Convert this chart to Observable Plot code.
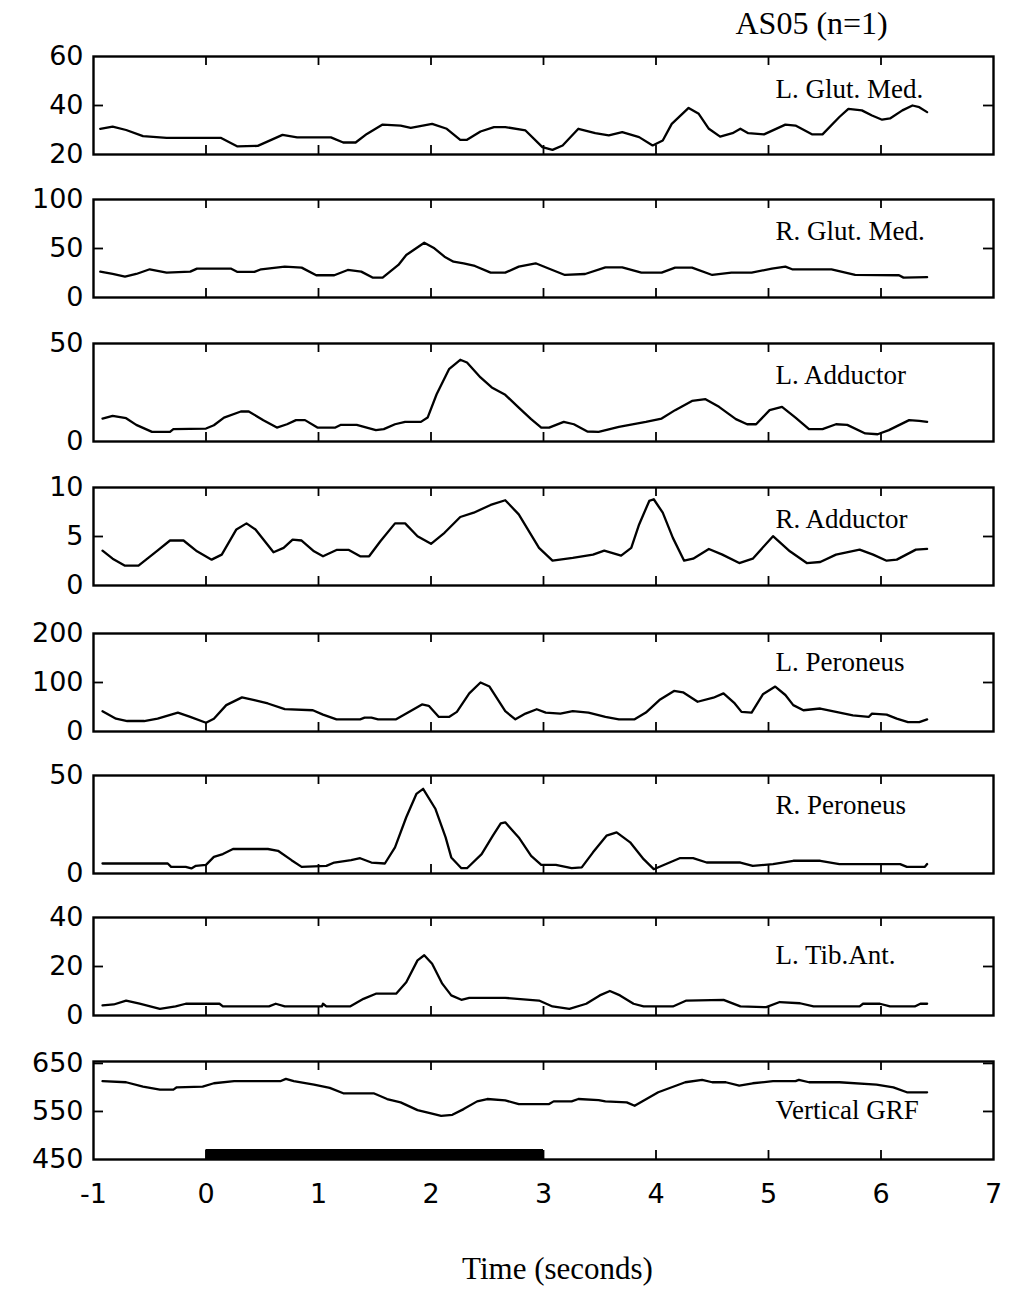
<!DOCTYPE html>
<html><head><meta charset="utf-8">
<script src="https://cdn.jsdelivr.net/npm/d3@7"></script>
<script src="https://cdn.jsdelivr.net/npm/@observablehq/plot@0.6"></script>
<style>
body{margin:0;background:#fff;}
#chart{position:relative;width:1011px;height:1293px;background:#fff;}
#chart svg{position:absolute;left:0;}
</style></head><body><div id="chart"></div>
<script>
// ---- data ----
const title = "AS05 (n=1)";
const xLabel = "Time (seconds)";
const xTicks = [-1, 0, 1, 2, 3, 4, 5, 6, 7];
const muscleNames = ["L. Glut. Med.", "R. Glut. Med.", "L. Adductor", "R. Adductor", "L. Peroneus", "R. Peroneus", "L. Tib.Ant.", "Vertical GRF"];
const yDomains = [[20, 60], [0, 100], [0, 50], [0, 10], [0, 200], [0, 50], [0, 40], [450, 654]];
const yTicks = [[20, 40, 60], [0, 50, 100], [0, 50], [0, 5, 10], [0, 100, 200], [0, 50], [0, 20, 40], [450, 550, 650]];
const stimulusBar = [[0, 3]];

const lGlutMed = [[-0.94,30.5],[-0.83,31.4],[-0.71,30],[-0.56,27.5],[-0.35,26.8],[0.13,26.8],[0.28,23.3],[0.46,23.5],[0.68,28],[0.81,27],[1.11,27],[1.22,24.9],[1.33,24.9],[1.43,28.4],[1.57,32.2],[1.73,31.8],[1.82,30.9],[2.01,32.5],[2.14,30.5],[2.26,26],[2.32,26],[2.44,29.4],[2.56,31.2],[2.66,31.2],[2.84,29.8],[2.99,23],[3.08,21.9],[3.17,23.7],[3.31,30.5],[3.46,28.7],[3.58,27.8],[3.70,29.1],[3.85,27.1],[3.97,23.7],[4.06,25.7],[4.14,32.5],[4.29,39],[4.38,36.6],[4.47,30.5],[4.57,27.3],[4.68,28.7],[4.75,30.5],[4.82,28.7],[4.96,28.2],[5.15,32.2],[5.24,31.8],[5.39,28.2],[5.48,28.2],[5.63,35.3],[5.71,38.6],[5.83,38],[5.92,35.9],[6.01,34.2],[6.08,34.7],[6.19,38],[6.28,40],[6.34,39.3],[6.41,37.3]];
const rGlutMed = [[-0.94,26.4],[-0.83,24],[-0.72,21.4],[-0.62,24],[-0.50,28.8],[-0.35,25.4],[-0.14,26.4],[-0.08,29.5],[0.22,29.5],[0.28,26.1],[0.43,26.1],[0.49,28.8],[0.70,31.5],[0.85,30.5],[0.98,22.7],[1.14,22.7],[1.26,28.1],[1.38,26.4],[1.48,20.3],[1.57,20.3],[1.71,33.2],[1.78,43.4],[1.94,55.9],[2.03,50.2],[2.12,41.7],[2.20,36.6],[2.29,34.9],[2.39,32.2],[2.53,25.4],[2.66,25.4],[2.78,31.5],[2.93,34.9],[3.04,29.8],[3.19,23],[3.37,24],[3.55,30.8],[3.70,30.8],[3.87,25.4],[4.05,25.4],[4.17,30.5],[4.32,30.5],[4.50,23],[4.67,25.4],[4.85,25.4],[5.03,29.5],[5.15,31.5],[5.21,28.8],[5.56,28.8],[5.77,23],[6.16,22.7],[6.20,20.3],[6.41,20.7]];
const lAdductor = [[-0.92,11.7],[-0.83,13.1],[-0.71,11.9],[-0.62,8.5],[-0.48,4.9],[-0.32,4.9],[-0.29,6.3],[0.00,6.6],[0.07,8.3],[0.16,12.2],[0.31,15.3],[0.38,15.3],[0.51,10.9],[0.63,7.1],[0.72,8.8],[0.80,10.9],[0.88,10.9],[0.99,7.1],[1.15,7.1],[1.20,8.5],[1.34,8.5],[1.51,5.8],[1.58,6.3],[1.68,8.8],[1.77,10],[1.91,10],[1.97,12.2],[2.05,24.1],[2.16,36.9],[2.26,41.7],[2.32,40.3],[2.44,32.7],[2.54,27.6],[2.66,23.8],[2.78,17.3],[2.89,11.4],[2.98,7.1],[3.05,7.1],[3.18,10],[3.27,8.8],[3.39,5.1],[3.49,4.9],[3.67,7.5],[3.91,10],[4.05,11.7],[4.17,16],[4.32,20.7],[4.44,21.6],[4.56,17.7],[4.71,11.4],[4.81,8.8],[4.89,8.8],[5.01,16],[5.12,17.7],[5.24,12.2],[5.36,6.3],[5.48,6.3],[5.60,8.8],[5.70,8.5],[5.86,4.1],[5.97,3.7],[6.07,5.8],[6.25,10.9],[6.34,10.5],[6.41,10]];
const rAdductor = [[-0.92,3.56],[-0.83,2.74],[-0.72,2.02],[-0.60,2.02],[-0.44,3.49],[-0.32,4.59],[-0.20,4.59],[-0.08,3.49],[0.05,2.64],[0.14,3.15],[0.27,5.72],[0.36,6.34],[0.44,5.72],[0.60,3.39],[0.69,3.84],[0.77,4.69],[0.85,4.59],[0.96,3.49],[1.04,2.98],[1.16,3.63],[1.27,3.63],[1.37,2.98],[1.45,2.98],[1.55,4.52],[1.68,6.34],[1.77,6.34],[1.88,5.03],[2.00,4.25],[2.12,5.38],[2.26,6.99],[2.38,7.43],[2.53,8.22],[2.66,8.7],[2.78,7.26],[2.87,5.55],[2.96,3.84],[3.08,2.53],[3.26,2.81],[3.44,3.15],[3.54,3.56],[3.69,3.05],[3.78,3.84],[3.85,6.23],[3.94,8.63],[3.98,8.8],[4.06,7.43],[4.15,4.86],[4.25,2.53],[4.33,2.74],[4.47,3.73],[4.59,3.15],[4.74,2.29],[4.86,2.74],[5.04,5.03],[5.19,3.49],[5.34,2.29],[5.46,2.4],[5.60,3.15],[5.81,3.66],[5.93,3.15],[6.05,2.53],[6.14,2.64],[6.31,3.66],[6.41,3.73]];
const lPeroneus = [[-0.92,41.4],[-0.80,26.2],[-0.70,21.4],[-0.55,21.4],[-0.43,26.2],[-0.25,38.6],[-0.14,29.7],[0.00,17.9],[0.07,26.2],[0.18,53.8],[0.32,69.7],[0.43,64.1],[0.55,57.2],[0.70,45.5],[0.95,43.4],[1.04,34.5],[1.16,24.8],[1.37,24.8],[1.41,28.3],[1.47,28.3],[1.53,24.8],[1.69,24.8],[1.78,36.6],[1.92,55.2],[1.98,52.4],[2.07,29.7],[2.16,29.7],[2.23,40],[2.34,77.9],[2.44,100],[2.52,91.7],[2.66,41.4],[2.75,24.8],[2.84,36.6],[2.94,45.5],[3.02,38.6],[3.15,36.6],[3.26,41.4],[3.40,38.6],[3.55,29.7],[3.67,24.8],[3.81,24.8],[3.91,38.6],[4.03,64.1],[4.16,82.8],[4.24,80],[4.37,60.7],[4.51,69],[4.60,77.9],[4.70,57.2],[4.76,40],[4.85,38.6],[4.95,75.9],[5.06,91.7],[5.15,74.5],[5.22,53.8],[5.31,43.4],[5.46,46.9],[5.60,40],[5.75,33.1],[5.89,29.7],[5.92,36.6],[6.05,34.5],[6.14,26.2],[6.24,19.3],[6.34,19.3],[6.41,24.8]];
const rPeroneus = [[-0.92,5.1],[-0.34,5.1],[-0.31,3.4],[-0.18,3.4],[-0.13,2.6],[-0.09,3.9],[0.00,4.4],[0.07,8.5],[0.15,9.9],[0.24,12.5],[0.55,12.5],[0.64,11.6],[0.76,6.8],[0.85,3.4],[1.07,3.9],[1.14,5.6],[1.29,6.8],[1.37,7.8],[1.47,5.6],[1.59,5.1],[1.68,13.3],[1.78,28.7],[1.87,40.6],[1.93,43.2],[2.04,32.9],[2.13,18.4],[2.18,8.2],[2.27,2.7],[2.32,2.7],[2.45,9.9],[2.55,19.3],[2.62,25.6],[2.66,26.1],[2.78,18.4],[2.89,9.0],[2.98,4.4],[3.11,4.4],[3.25,2.7],[3.34,3.1],[3.44,10.8],[3.56,19.3],[3.65,21],[3.77,15.9],[3.89,7.3],[3.98,2.2],[4.10,5.1],[4.21,7.8],[4.33,7.8],[4.45,5.6],[4.75,5.6],[4.86,3.9],[5.04,4.8],[5.22,6.5],[5.46,6.5],[5.63,4.8],[6.17,4.8],[6.23,3.4],[6.39,3.4],[6.41,4.8]];
const lTibAnt = [[-0.92,4.1],[-0.82,4.5],[-0.71,6.1],[-0.59,4.8],[-0.41,2.7],[-0.27,3.7],[-0.18,4.8],[0.12,4.8],[0.15,3.7],[0.56,3.7],[0.62,4.8],[0.70,3.7],[1.03,3.7],[1.04,4.8],[1.07,3.7],[1.28,3.7],[1.40,6.8],[1.51,8.9],[1.69,8.9],[1.78,13.6],[1.88,22.5],[1.94,24.6],[2.01,21.1],[2.10,13],[2.18,8.2],[2.27,6.4],[2.34,7.2],[2.66,7.2],[2.96,6.1],[3.08,3.7],[3.23,2.7],[3.38,4.8],[3.50,8.2],[3.59,10],[3.68,8.2],[3.80,4.8],[3.89,3.7],[4.15,3.7],[4.27,6.1],[4.60,6.4],[4.75,3.7],[4.98,3.4],[5.10,5.5],[5.28,5.0],[5.40,3.7],[5.81,3.7],[5.84,4.8],[5.99,4.8],[6.08,3.7],[6.30,3.7],[6.35,4.8],[6.41,4.8]];
const vGRF = [[-0.92,613],[-0.71,610.8],[-0.56,601.7],[-0.41,595.5],[-0.29,595.5],[-0.26,600.3],[-0.03,601.7],[0.07,608.7],[0.25,613],[0.66,613],[0.71,617.8],[0.78,613],[0.96,606],[1.10,599],[1.22,587.8],[1.49,587.8],[1.61,575.9],[1.73,568.9],[1.88,552.8],[2.00,545.8],[2.09,540.9],[2.19,543],[2.29,554.9],[2.41,571],[2.50,575.9],[2.66,573],[2.78,565.4],[3.05,565.4],[3.09,571],[3.25,571],[3.31,575.9],[3.49,573.8],[3.55,571],[3.74,568.9],[3.81,561.9],[4.02,589.9],[4.26,610.8],[4.41,615.7],[4.50,610.8],[4.62,610.8],[4.74,603.8],[4.86,608.7],[5.04,613],[5.24,613],[5.27,615.7],[5.36,610.8],[5.63,610.8],[5.96,606],[6.11,600.3],[6.23,589.9],[6.41,589.9]];
const seriesData = [lGlutMed, rGlutMed, lAdductor, rAdductor, lPeroneus, rPeroneus, lTibAnt, vGRF];

// ---- layout ----
const W = 1011, mL = 93, mR = 18, innerH = 98;
const panelTops = [56, 199, 343, 487, 633, 775, 917, 1061];
const labelBaseline = [41, 40, 40, 40, 37, 38, 46, 57];
const sans = "DejaVu Sans", serif = "Liberation Serif";
const innerW = W - mL - mR;
const innerXTicks = xTicks.slice(1, -1);
const chart = document.getElementById("chart");

seriesData.forEach((data, i) => {
  const first = i === 0, last = i === seriesData.length - 1;
  const mt = first ? 56 : 24, mb = last ? 135 : 24;
  const dom = yDomains[i];
  const mids = yTicks[i].filter(v => v > dom[0] && v < dom[1]);
  const marks = [
    Plot.tickX(innerXTicks, {x: d => d, insetBottom: innerH - 9, strokeWidth: 1.8}),
    Plot.tickX(innerXTicks, {x: d => d, insetTop: innerH - 9, strokeWidth: 1.8}),
    Plot.tickY(mids, {y: d => d, insetRight: innerW - 10, strokeWidth: 1.8}),
    Plot.tickY(mids, {y: d => d, insetLeft: innerW - 10, strokeWidth: 1.8}),
    Plot.axisY({ticks: yTicks[i], tickSize: 0, tickPadding: 10, fontSize: 27, fontFamily: sans, label: null}),
    Plot.line(data, {x: d => d[0], y: d => d[1], stroke: "black", strokeWidth: 2.3}),
    Plot.text([muscleNames[i]], {frameAnchor: "top-right", textAnchor: "start", lineAnchor: "bottom",
      dx: -218, dy: labelBaseline[i], fontFamily: serif, fontSize: 27, fill: "black"}),
    Plot.frame({stroke: "black", strokeWidth: 2.4})
  ];
  if (first) {
    marks.push(Plot.text([title], {frameAnchor: "top-right", textAnchor: "start", lineAnchor: "bottom",
      dx: -258, dy: -23, fontFamily: serif, fontSize: 32, fill: "black"}));
  }
  if (last) {
    marks.push(Plot.ruleY(stimulusBar, {x1: d => d[0], x2: d => d[1], y: () => dom[0], stroke: "black", strokeWidth: 11, dy: -5}));
    marks.push(Plot.axisX({ticks: xTicks, tickSize: 0, tickPadding: 24, fontSize: 27, fontFamily: sans, label: null, tickFormat: d => String(d)}));
    marks.push(Plot.text([xLabel], {frameAnchor: "bottom", textAnchor: "middle", lineAnchor: "bottom",
      dx: 14, dy: 119, fontFamily: serif, fontSize: 31, fill: "black"}));
  }
  const svg = Plot.plot({
    width: W,
    height: mt + innerH + mb,
    marginLeft: mL, marginRight: mR, marginTop: mt, marginBottom: mb,
    x: {domain: [-1, 7], axis: last ? undefined : null},
    y: {domain: dom},
    style: {background: "white", color: "black", fontFamily: sans, overflow: "visible"},
    marks
  });
  svg.style.top = (panelTops[i] - mt) + "px";
  chart.appendChild(svg);
});
</script>
</body></html>
